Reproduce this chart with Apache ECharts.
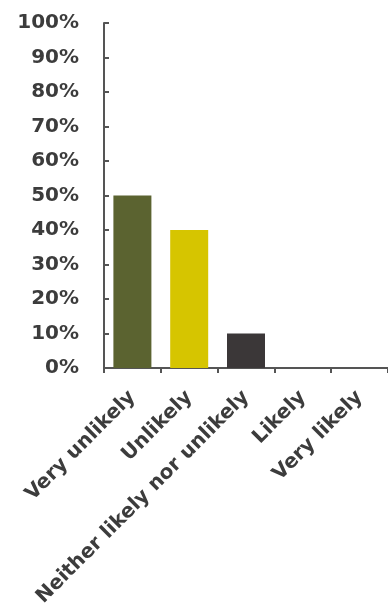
<!DOCTYPE html>
<html><head><meta charset="utf-8">
<script src="https://cdn.jsdelivr.net/npm/echarts@6/dist/echarts.min.js"></script>
<style>html,body{margin:0;padding:0;background:#fff}#c{width:388px;height:612px}</style>
</head><body><div id="c"></div>
<script>
const categories = ["Very unlikely", "Unlikely", "Neither likely nor unlikely", "Likely", "Very likely"];
const values = [50, 40, 10, 0, 0];
const barColors = ["#5b6330", "#d6c500", "#3b3738", "#888888", "#888888"];
const yTicks = [0, 10, 20, 30, 40, 50, 60, 70, 80, 90, 100];

const chart = echarts.init(document.getElementById('c'), null, {renderer: 'canvas'});
chart.setOption({
  animation: false,
  grid: {left: 104, right: -6, top: 23, bottom: 244},
  xAxis: {
    type: 'category', data: categories,
    axisLine: {lineStyle: {color: '#555', width: 2}},
    axisTick: {show: true, length: 5, lineStyle: {color: '#555', width: 2}},
    axisLabel: {rotate: 45, interval: 0, margin: 26, color: '#3c3c3c', fontFamily: 'DejaVu Sans', fontWeight: 'bold', fontSize: 20}
  },
  yAxis: {
    type: 'value', min: yTicks[0], max: yTicks[yTicks.length-1], interval: 10,
    splitLine: {show: false},
    axisLine: {show: true, lineStyle: {color: '#555', width: 2}},
    axisTick: {show: true, inside: true, length: 5, lineStyle: {color: '#555', width: 2}},
    axisLabel: {margin: 25, color: '#3c3c3c', fontFamily: 'DejaVu Sans', fontWeight: 'bold', fontSize: 20, formatter: v => v + '%'}
  },
  series: [{
    type: 'bar', barWidth: 38,
    data: values.map((v, i) => ({value: v, itemStyle: {color: barColors[i]}}))
  }]
});
</script></body></html>
